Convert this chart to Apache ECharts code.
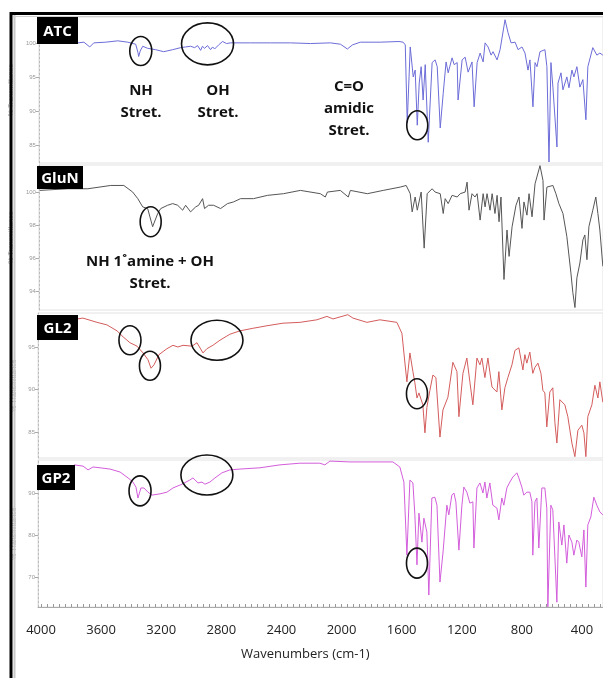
<!DOCTYPE html>
<html>
<head>
<meta charset="utf-8">
<script src="https://cdn.jsdelivr.net/npm/echarts@6/dist/echarts.min.js"></script>
<style>
  html, body { margin: 0; padding: 0; background: #fff; }
  #chart { width: 603px; height: 678px; }
</style>
</head>
<body>
<div id="chart"></div>
<script>
// spectra: [wavenumber cm-1, % transmittance]
const atc = [
  [3760,100],[3720,100.1],[3681,99.4],[3654,100],[3574,100.1],[3494,100.3],[3428,100.1],[3375,99.8],[3360,98.6],[3355,98.0],
  [3345,98.8],[3328,99.5],[3295,99.2],[3242,99.0],[3188,98.7],[3128,99.0],[3075,99.3],[3042,99.4],[3009,99.5],[2982,99.3],
  [2962,99.6],[2942,98.9],[2930,99.5],[2916,99.2],[2896,99.6],[2876,99.0],[2862,99.4],[2849,99.1],[2822,99.7],[2796,100.2],
  [2769,99.9],[2743,100],[2610,100],[2476,100],[2343,100],[2210,99.9],[2077,100],[2010,99.8],[1964,99.1],[1930,99.7],
  [1878,100.1],[1745,100.1],[1620,100.2],[1592,100.1],[1578,99.7],[1565,88.2],[1545,99.4],[1525,95.0],[1512,96.0],[1498,87.9],
  [1485,94.1],[1472,96.5],[1459,91.6],[1445,96.8],[1425,85.4],[1399,97.1],[1379,97.5],[1365,96.5],[1345,87.5],[1325,92.6],
  [1306,97.2],[1292,95.6],[1266,97.8],[1252,96.8],[1232,97.1],[1226,91.6],[1199,97.5],[1179,97.9],[1159,95.7],[1133,97.2],
  [1119,90.6],[1099,97.1],[1079,98.5],[1059,97.2],[1046,100],[1026,99.4],[1006,98.2],[993,98.7],[966,97.5],[946,99.0],
  [913,103.4],[893,101.5],[873,100],[846,100.1],[826,99.0],[800,99.4],[780,98.5],[760,96.0],[747,97.5],[727,90.6],
  [713,97.1],[700,96.5],[680,98.7],[647,99.0],[634,96.5],[620,82.5],[607,97.1],[594,93.5],[567,84.7],[560,94.1],
  [540,95.6],[527,93.1],[501,95.0],[487,93.4],[467,96.0],[454,95.0],[434,96.5],[414,93.5],[394,94.6],[374,88.7],
  [361,96.5],[328,99.3],[301,98.2],[281,98.5],[261,98.2]
];
const glun = [
  [4015,100.1],[3827,100.2],[3694,100.2],[3541,100.4],[3454,100.4],[3395,100],[3361,99.6],[3328,99.1],[3295,99.0],[3262,97.9],
  [3228,98.7],[3208,99.0],[3162,99.2],[3128,99.3],[3095,99.2],[3062,98.9],[3042,99.2],[3009,98.8],[2975,99.1],[2955,99.2],
  [2929,99.6],[2916,99.0],[2889,99.2],[2856,99.2],[2809,99.0],[2763,99.3],[2723,99.4],[2676,99.6],[2590,99.6],[2496,99.8],
  [2390,99.9],[2277,100.1],[2144,99.9],[2111,99.7],[2097,100],[2011,100.1],[1958,99.7],[1944,100.1],[1831,99.9],[1725,100.1],
  [1612,100.3],[1572,100.4],[1545,99.9],[1532,98.8],[1512,99.7],[1498,98.9],[1472,100],[1452,96.6],[1432,99.9],[1399,100.2],
  [1379,100],[1345,99.9],[1325,98.7],[1312,99.6],[1292,99.3],[1266,99.8],[1232,99.7],[1212,99.9],[1179,100],[1166,100.6],
  [1153,98.9],[1133,99.9],[1113,99.7],[1099,99.9],[1079,98.3],[1059,99.9],[1046,99.1],[1033,99.9],[1013,98.9],[999,99.9],
  [980,98.7],[966,99.8],[953,98.2],[940,99.7],[920,94.7],[900,97.7],[886,96.1],[866,97.9],[840,99.2],[820,99.7],
  [800,97.8],[787,99.4],[767,98.6],[753,99.9],[733,98.5],[713,100.5],[680,101.6],[660,100.7],[653,98.3],[634,100.3],
  [594,100.4],[574,99.9],[554,99.3],[527,98.7],[501,97.3],[474,95.1],[461,93.9],[447,93.0],[434,94.8],[414,95.7],
  [394,97.1],[381,97.4],[367,95.9],[354,97.9],[328,98.9],[308,99.7],[294,98.7],[281,97.7],[261,95.5]
];
const gl2 = [
  [3760,98.3],[3721,98.4],[3627,97.9],[3561,97.6],[3494,96.9],[3454,96.2],[3408,95.5],[3361,95.1],[3321,94.3],[3288,93.5],
  [3268,92.5],[3248,92.9],[3215,94.1],[3162,94.8],[3122,95.2],[3089,95.0],[3055,95.2],[2995,95.1],[2962,95.5],[2922,94.3],
  [2896,94.8],[2856,95.2],[2809,95.8],[2743,96.5],[2676,96.9],[2590,97.2],[2496,97.5],[2390,97.8],[2277,97.9],[2164,98.2],
  [2097,98.6],[2057,98.3],[1958,98.8],[1924,98.4],[1831,97.9],[1745,98.2],[1632,97.9],[1598,96.6],[1585,94.3],[1565,90.9],
  [1545,94.3],[1525,92.1],[1512,90.8],[1498,89.0],[1485,89.6],[1459,88.2],[1445,84.9],[1432,87.9],[1412,89.9],[1392,91.7],
  [1372,91.4],[1345,84.4],[1325,87.6],[1292,89.1],[1259,93.2],[1232,92.1],[1219,86.8],[1192,91.9],[1166,93.7],[1146,90.9],
  [1126,88.2],[1099,93.7],[1079,92.9],[1066,93.7],[1046,91.4],[1026,93.7],[999,90.3],[966,89.7],[953,92.1],[933,87.6],
  [913,90.2],[893,91.4],[866,92.9],[846,94.6],[820,94.9],[793,92.3],[780,94.1],[767,93.1],[747,94.4],[727,91.9],
  [713,92.6],[693,93.1],[673,91.9],[660,89.9],[647,89.6],[634,85.6],[614,89.7],[594,90.2],[580,86.1],[567,83.7],
  [547,88.8],[514,88.2],[494,86.8],[467,83.7],[447,82.1],[427,85.2],[401,85.8],[387,84.9],[374,82.1],[361,86.8],
  [334,88.2],[314,90.5],[294,89.0],[281,90.9],[261,88.5]
];
const gp2 = [
  [3780,96.7],[3720,96.4],[3687,95.5],[3654,96.2],[3607,96.0],[3541,95.7],[3474,95.0],[3421,93.6],[3388,92.6],[3368,91.4],
  [3355,88.8],[3335,91.2],[3315,91.2],[3288,90.2],[3262,89.5],[3208,89.8],[3162,90.2],[3122,91.2],[3062,92.1],[3009,93.1],
  [2989,93.6],[2955,92.4],[2929,92.6],[2909,92.1],[2876,92.6],[2842,93.6],[2796,94.8],[2743,95.5],[2676,95.7],[2543,96.0],
  [2410,96.7],[2277,97.1],[2144,97.1],[2111,96.7],[2077,97.6],[1944,97.4],[1831,97.4],[1658,97.4],[1612,96.2],[1585,92.6],
  [1565,75.2],[1545,93.1],[1525,92.4],[1512,84.8],[1498,72.9],[1485,85.2],[1465,78.3],[1452,84.0],[1432,80.7],[1419,65.7],
  [1399,88.8],[1379,89.0],[1365,87.1],[1345,68.8],[1325,75.7],[1299,87.1],[1286,84.8],[1266,89.5],[1252,90.0],[1239,87.9],
  [1219,76.4],[1199,87.1],[1186,91.4],[1166,90.2],[1146,87.6],[1126,87.9],[1119,76.9],[1099,91.2],[1079,92.4],[1059,90.0],
  [1046,92.6],[1033,88.8],[1013,92.4],[993,87.1],[966,86.4],[953,83.6],[933,88.8],[920,87.1],[900,91.2],[880,92.6],
  [860,93.8],[833,94.8],[820,93.6],[800,91.4],[787,89.5],[767,90.2],[747,90.2],[733,87.9],[727,75.2],[713,87.9],
  [700,88.8],[687,76.9],[667,91.2],[647,91.2],[634,86.4],[627,62.9],[607,87.1],[594,86.0],[567,64.0],[554,83.1],
  [534,77.6],[520,82.4],[501,73.3],[487,80.0],[467,78.3],[454,75.2],[434,78.8],[421,78.3],[401,74.8],[387,81.2],
  [374,67.6],[361,82.4],[341,84.3],[321,89.0],[301,87.1],[281,85.5],[261,84.8]
];

// tick labels
const xTicks = [4000, 3600, 3200, 2800, 2400, 2000, 1600, 1200, 800, 400];
const atcTicks = [85, 90, 95, 100];
const glunTicks = [94, 96, 98, 100];
const gl2Ticks = [85, 90, 95];
const gp2Ticks = [70, 80, 90];
const names = ['ATC', 'GluN', 'GL2', 'GP2'];

const X_MIN = 260, X_MAX = 4020;
const panels = [
  { data: atc,  color: '#6c6cd8', top: 17,  height: 146, min: 82.35, max: 103.8, ticks: atcTicks },
  { data: glun, color: '#555555', top: 165, height: 145, min: 92.85, max: 101.64, ticks: glunTicks },
  { data: gl2,  color: '#d45c5c', top: 313, height: 145, min: 81.94, max: 99.0, ticks: gl2Ticks },
  { data: gp2,  color: '#d35ddb', top: 460, height: 147, min: 62.86, max: 97.86, ticks: gp2Ticks }
];

const minorX = [];
for (let v = 280; v <= 4000; v += 40) minorX.push(v);

const chart = echarts.init(document.getElementById('chart'));

const option = {
  backgroundColor: '#fff',
  animation: false,
  title: {
    text: 'Wavenumbers (cm-1)',
    left: 236, top: 643,
    textStyle: { fontFamily: 'Open Sans', fontSize: 13, fontWeight: 'normal', color: '#222' }
  },
  grid: panels.map(p => ({
    left: 38, right: 0, top: p.top, height: p.height,
    show: true, borderColor: '#e2e2e2', borderWidth: 1
  })),
  xAxis: panels.map((p, i) => {
    const last = i === panels.length - 1;
    return {
      gridIndex: i, type: 'value', inverse: true, min: X_MIN, max: X_MAX,
      show: last,
      axisLine: { show: true, lineStyle: { color: '#aaa' } },
      axisTick: { show: true, customValues: minorX, length: 3, inside: true, lineStyle: { color: '#999' } },
      axisLabel: { customValues: xTicks, margin: 17, fontFamily: 'Open Sans', fontSize: 13, color: '#222',
        formatter: v => String(v) },
      splitLine: { show: false }
    };
  }),
  yAxis: panels.map((p, i) => ({
    gridIndex: i, type: 'value', min: p.min, max: p.max,
    name: '% Transmittance', nameLocation: 'middle', nameGap: 20, nameRotate: 90,
    nameTextStyle: { fontSize: 7, color: '#aaa' },
    axisLine: { show: true, lineStyle: { color: '#bbb', type: [2, 2] } },
    axisTick: { show: true, customValues: p.ticks, length: 3, lineStyle: { color: '#aaa' } },
    axisLabel: { customValues: p.ticks, fontSize: 6, color: '#999', margin: 3 },
    splitLine: { show: false }
  })),
  series: panels.map((p, i) => ({
    name: names[i], type: 'line', xAxisIndex: i, yAxisIndex: i,
    data: p.data, showSymbol: false, smooth: false,
    lineStyle: { color: p.color, width: 1 }
  }))
};
chart.setOption(option);

// circled bands, anchored in data coordinates
const circles = [
  { g: 0, wn: 3341, t: 98.8, rx: 11, ry: 14.5 },
  { g: 0, wn: 2896, t: 99.85, rx: 26, ry: 21 },
  { g: 0, wn: 1498, t: 87.9, rx: 10.5, ry: 14.5 },
  { g: 1, wn: 3275, t: 98.2, rx: 10.5, ry: 15 },
  { g: 2, wn: 3408, t: 95.8, rx: 11, ry: 14.5 },
  { g: 2, wn: 3275, t: 92.8, rx: 10.5, ry: 14.5 },
  { g: 2, wn: 2829, t: 95.8, rx: 26, ry: 20 },
  { g: 2, wn: 1498, t: 89.5, rx: 10.5, ry: 15 },
  { g: 3, wn: 3341, t: 90.5, rx: 11, ry: 15 },
  { g: 3, wn: 2896, t: 94.3, rx: 26, ry: 20 },
  { g: 3, wn: 1498, t: 73.3, rx: 10.5, ry: 15 }
];

const graphic = [];
// outer frame
graphic.push({ type: 'rect', shape: { x: 11, y: 13.5, width: 700, height: 700 },
  style: { fill: 'none', stroke: '#000', lineWidth: 3 }, z: 100 });
graphic.push({ type: 'line', shape: { x1: 14.5, y1: 15, x2: 14.5, y2: 678 },
  style: { stroke: '#c8c8c8', lineWidth: 2 }, z: 100 });
graphic.push({ type: 'line', shape: { x1: 13, y1: 16.5, x2: 603, y2: 16.5 },
  style: { stroke: '#d0d0d0', lineWidth: 1 }, z: 100 });

circles.forEach(c => {
  const [cx, cy] = chart.convertToPixel({ gridIndex: c.g }, [c.wn, c.t]);
  graphic.push({ type: 'ellipse', shape: { cx, cy, rx: c.rx, ry: c.ry },
    style: { fill: 'none', stroke: '#111', lineWidth: 1.6 }, z: 110 });
});

// sample tags
const tags = [
  { text: 'ATC',  x: 37, y: 17,  w: 41, h: 27 },
  { text: 'GluN', x: 37, y: 166, w: 46, h: 23 },
  { text: 'GL2',  x: 37, y: 315, w: 41, h: 25 },
  { text: 'GP2',  x: 37, y: 465, w: 38, h: 25 }
];
tags.forEach(t => {
  graphic.push({ type: 'rect', shape: { x: t.x, y: t.y, width: t.w, height: t.h },
    style: { fill: '#000' }, z: 120 });
  graphic.push({ type: 'text', x: t.x + t.w / 2, y: t.y + t.h / 2 + 1, z: 121,
    style: { text: t.text, fill: '#fff', font: 'bold 15px "Open Sans"', textAlign: 'center', textVerticalAlign: 'middle' } });
});

// band labels
const notes = [
  { text: 'NH\nStret.', x: 141, y: 80 },
  { text: 'OH\nStret.', x: 218, y: 80 },
  { text: 'C=O\namidic\nStret.', x: 349, y: 76 },
  { text: 'NH 1˚amine + OH\nStret.', x: 150, y: 251 }
];
notes.forEach(n => {
  graphic.push({ type: 'text', x: n.x, y: n.y, z: 121,
    style: { text: n.text, fill: '#111', font: 'bold 15px "Open Sans"', lineHeight: 22,
      textAlign: 'center', textVerticalAlign: 'top' } });
});

chart.setOption({ graphic: graphic });
</script>
</body>
</html>
